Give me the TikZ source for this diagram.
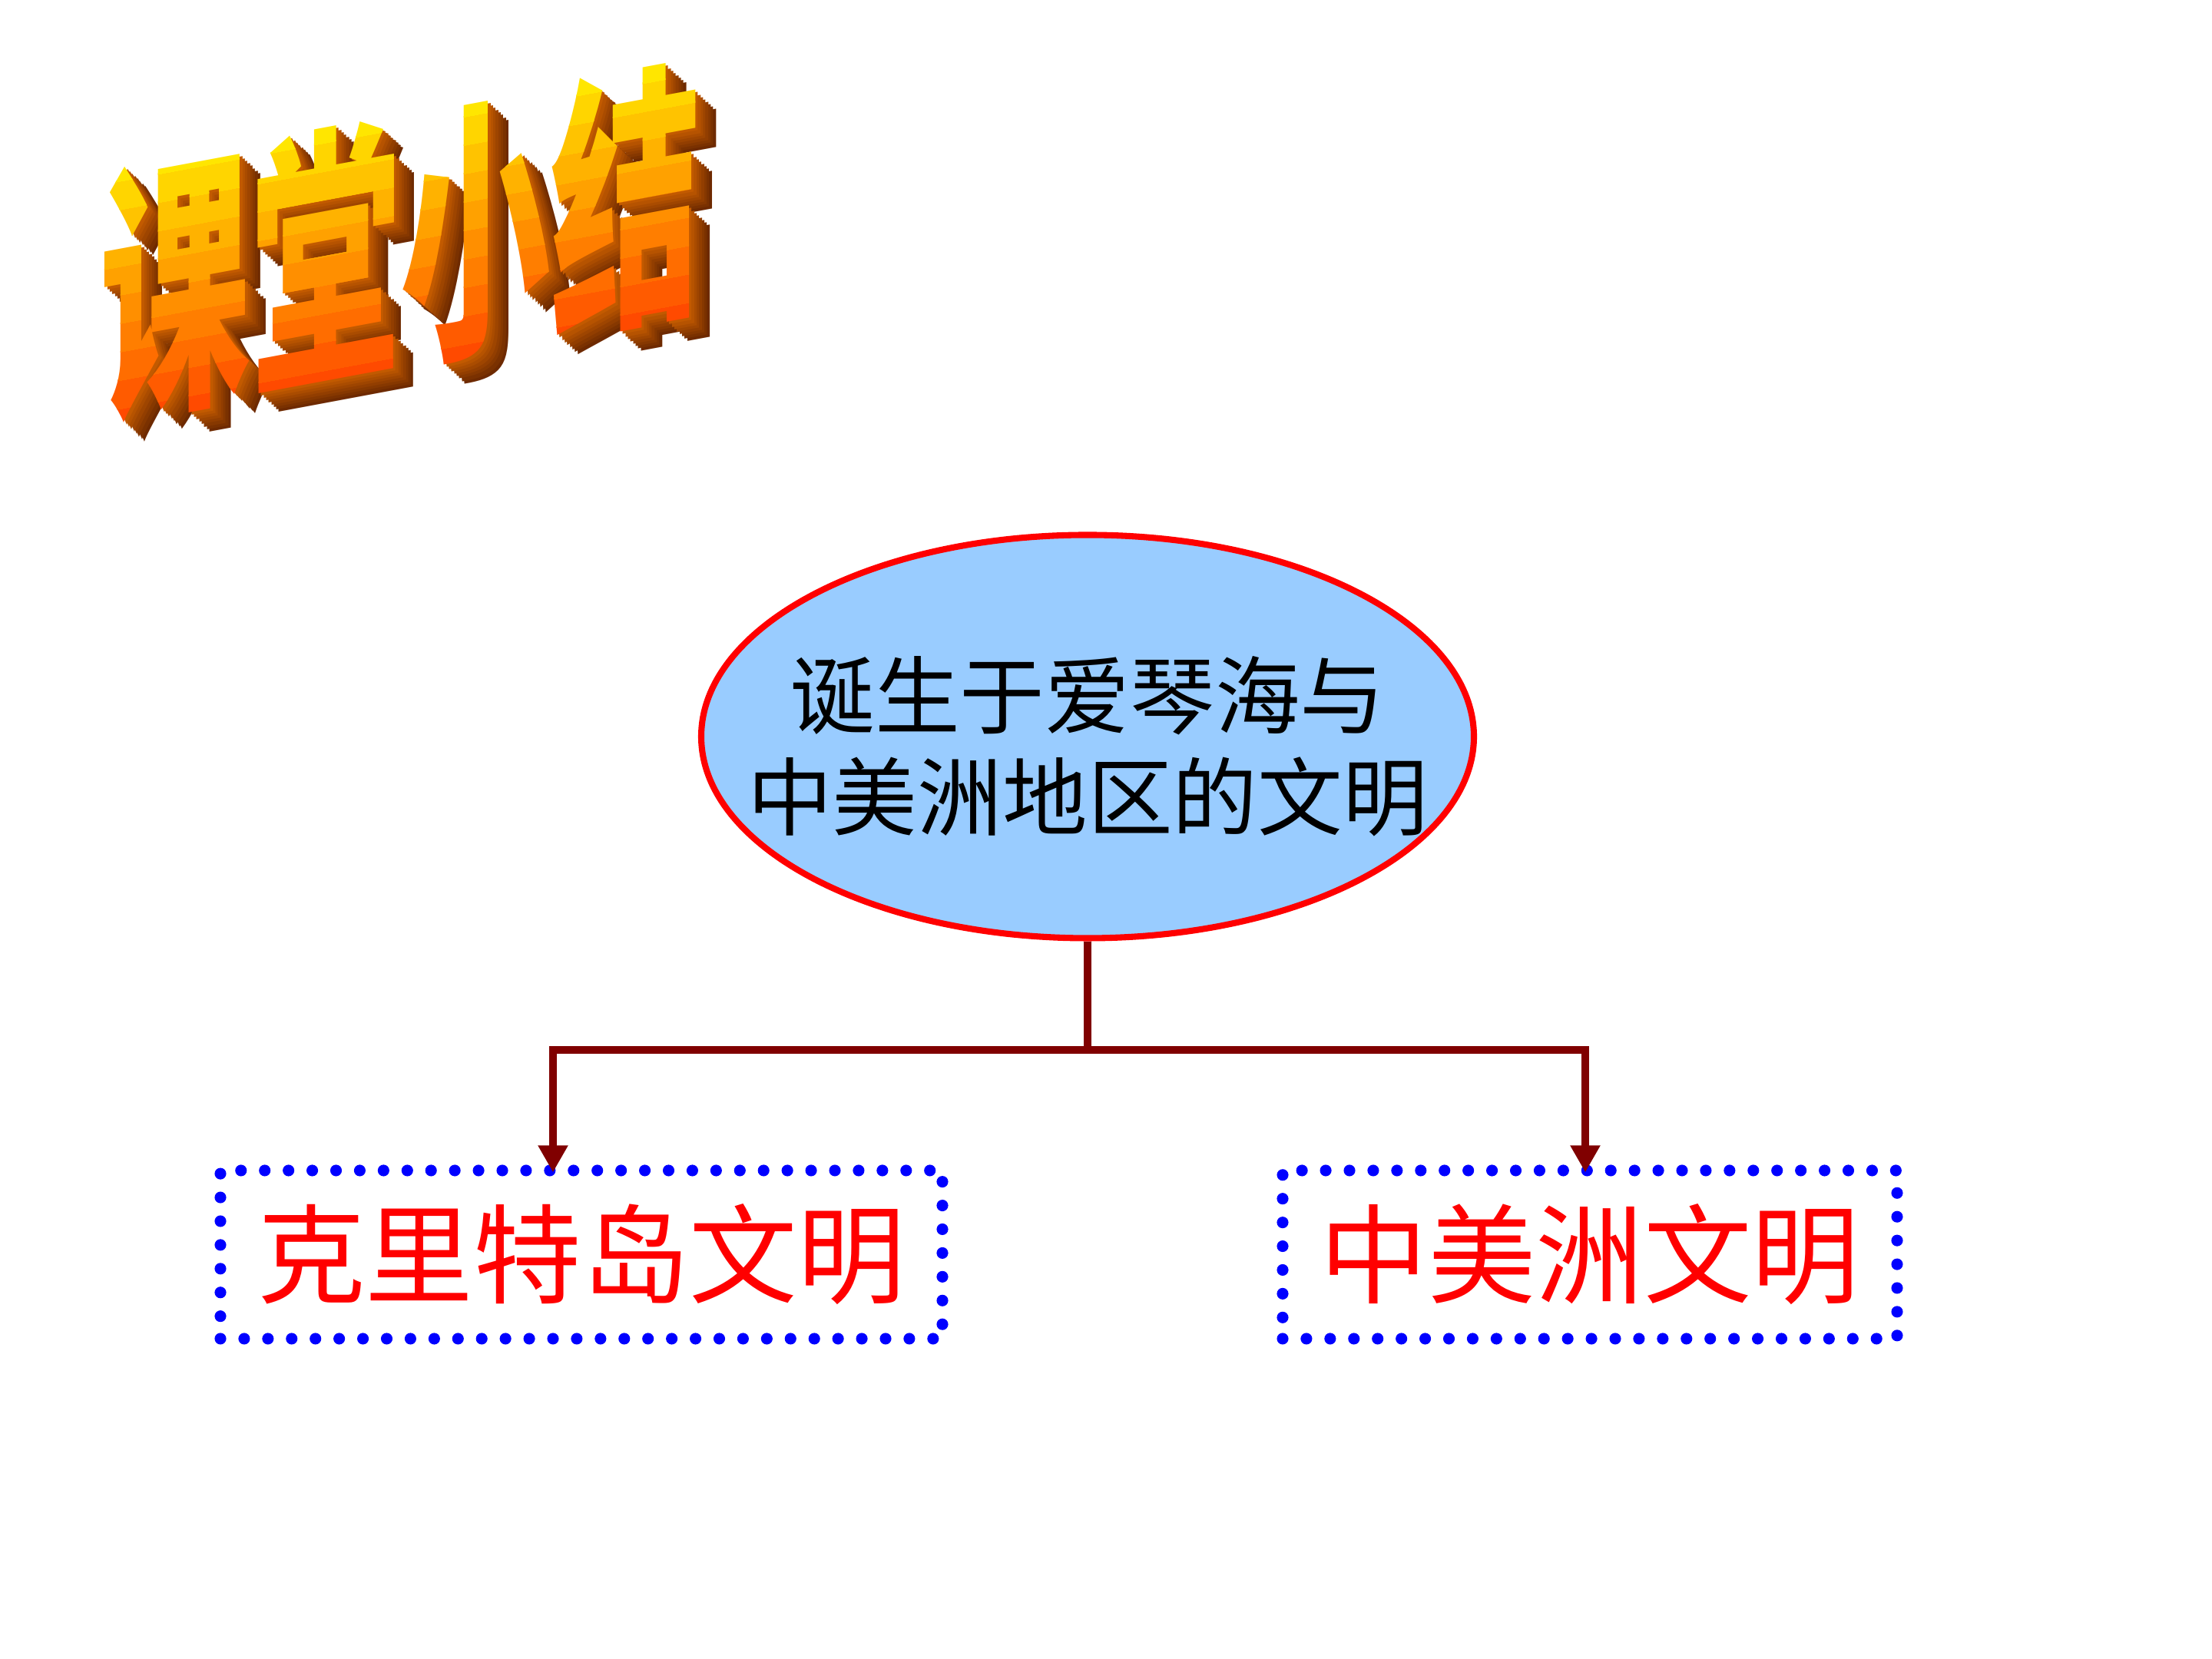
\documentclass[tikz,border=0pt]{standalone}
\usepackage{fontspec}
\newfontfamily\cjk{Noto Sans CJK SC}
\usetikzlibrary{arrows.meta,shapes.geometric}
\definecolor{sky}{HTML}{99CCFF}
\definecolor{darkred}{HTML}{800000}
\definecolor{tyel}{HTML}{FFE600}
\definecolor{tora}{HTML}{FF4A00}
\definecolor{tsideA}{HTML}{C25A00}
\definecolor{tsideB}{HTML}{6E2A00}
\begin{document}
\begin{tikzpicture}[
  conn/.style={draw=darkred, line width=2.85pt, line join=miter},
  arr/.style={-{Triangle[length=10pt,width=10.5pt]}},
  dotbox/.style={draw=blue, line width=4.3pt, line cap=round, dash pattern=on 0pt off 8.8pt, minimum height=2.19cm, inner sep=0pt},
  boxtext/.style={text=red, font=\cjk\fontsize{40}{48}\selectfont},
  titlech/.style={font=\cjk\bfseries\fontsize{52}{52}\selectfont, transform shape, inner sep=0pt}
]
\fill[white] (0,0) rectangle (28.8,21.6);
\useasboundingbox (0,0) rectangle (28.8,21.6);

% title with fake 3D extrusion and vertical gradient
\begin{scope}[cm={1.07,0.2,0,1.95,(5.22,18.44)}]
  \foreach \i in {8,7,...,1}{
    \pgfmathsetmacro\mix{100*(\i-1)/7}
    \node[titlech, text=tsideB!\mix!tsideA] (tsh\i) at (\i*0.031, -\i*0.019) {课堂小结};
  }
  \foreach \k in {0,...,9}{
    \pgfmathsetmacro\ya{-0.95+\k*0.19}
    \pgfmathsetmacro\yb{\ya+0.2}
    \pgfmathsetmacro\mix{100*\k/9}
    \begin{scope}
      \clip (-5,\ya) rectangle (5,\yb);
      \node[titlech, text=tyel!\mix!tora] (tf\k) at (0,0) {课堂小结};
    \end{scope}
  }
\end{scope}

% central ellipse
\node[ellipse, draw=red, line width=2.3pt, fill=sky, minimum width=10.06cm, minimum height=5.25cm, inner sep=0pt] (e) at (14.16,12.01) {};
\node[align=center, inner sep=0pt, font=\cjk\fontsize{31.5}{37.5}\selectfont] (et) at (14.16,11.88) {诞生于爱琴海与\\中美洲地区的文明};

% boxes
\node[dotbox, boxtext, minimum width=9.40cm] (lb) at (7.57,5.265) {克里特岛文明};
\node[dotbox, boxtext, minimum width=8.00cm] (rb) at (20.70,5.265) {中美洲文明};

% connectors
\coordinate (j) at (14.16,7.93);
\coordinate (jl) at (7.20,7.93);
\coordinate (jr) at (20.64,7.93);
\draw[conn] (e.south) -- (j);
\draw[conn,arr] (j) -- (jl) -- ([yshift=-0.1cm]lb.north -| jl);
\draw[conn,arr] (j) -- (jr) -- ([yshift=-0.1cm]rb.north -| jr);
\end{tikzpicture}
\end{document}
